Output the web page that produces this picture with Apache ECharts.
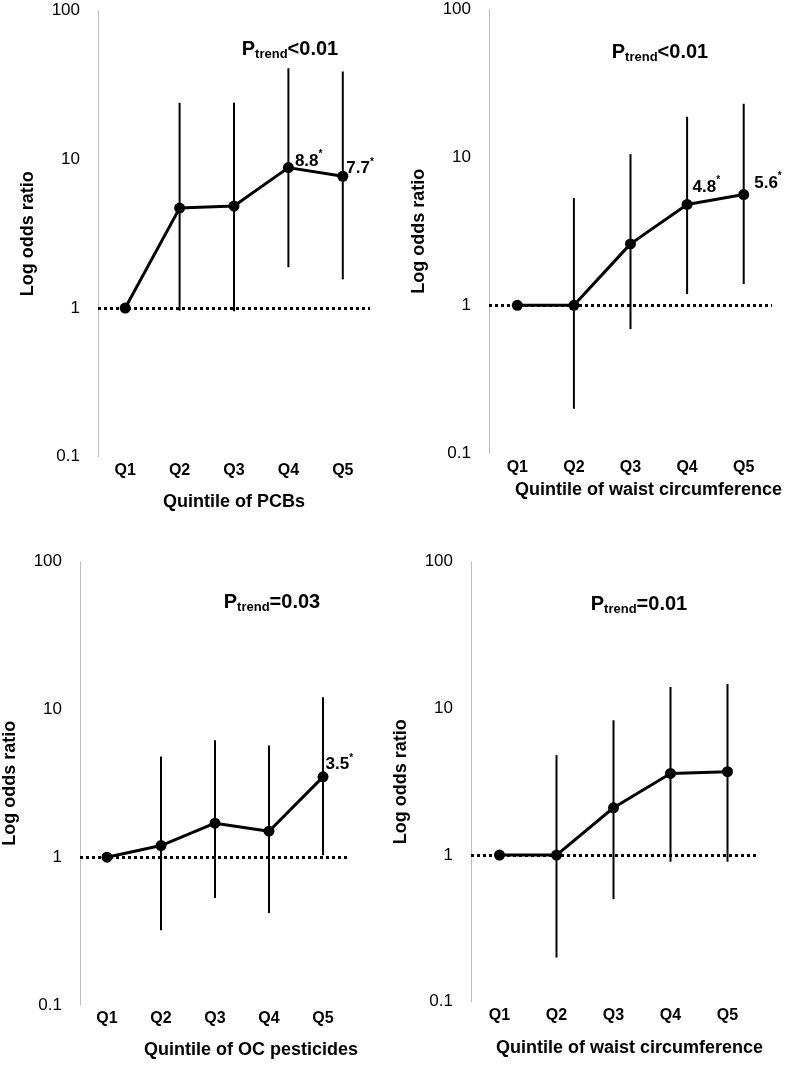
<!DOCTYPE html>
<html><head><meta charset="utf-8">
<script src="https://cdn.jsdelivr.net/npm/echarts@6.0.0/dist/echarts.min.js"></script>
<style>html,body{margin:0;padding:0;background:#fff}#c{width:785px;height:1067px}</style>
</head><body><div id="c"></div>
<script>
const categories = ['Q1', 'Q2', 'Q3', 'Q4', 'Q5'];
const yTickValues = [0.1, 1, 10, 100];

// Panel A: PCBs
const orPCB = [1, 4.7, 4.85, 8.8, 7.7];
const lowPCB = [null, 0.96, 0.95, 1.88, 1.56];
const highPCB = [null, 24, 24, 41, 39];
const annPCB = ['', '', '', '8.8', '7.7'];

// Panel B: waist circumference
const orWaistB = [1, 1, 2.6, 4.8, 5.6];
const lowWaistB = [null, 0.2, 0.69, 1.19, 1.39];
const highWaistB = [null, 5.3, 10.5, 18.8, 23];
const annWaistB = ['', '', '', '4.8', '5.6'];

// Panel C: OC pesticides
const orOC = [1, 1.2, 1.7, 1.5, 3.5];
const lowOC = [null, 0.32, 0.53, 0.42, 1.03];
const highOC = [null, 4.8, 6.2, 5.7, 12.1];
const annOC = ['', '', '', '', '3.5'];

// Panel D: waist circumference
const orWaistD = [1, 1, 2.1, 3.6, 3.7];
const lowWaistD = [null, 0.2, 0.5, 0.9, 0.9];
const highWaistD = [null, 4.8, 8.3, 14, 14.7];
const annWaistD = ['', '', '', '', ''];

const xTitles = ['Quintile of PCBs', 'Quintile of waist circumference', 'Quintile of OC pesticides', 'Quintile of waist circumference'];
const yTitle = 'Log odds ratio';
const pTrendTexts = ['<0.01', '<0.01', '=0.03', '=0.01'];
const referenceOR = 1;

const FONT = '"Liberation Sans", Arial, sans-serif';

const panels = [
  {or: orPCB, lo: lowPCB, hi: highPCB, ann: annPCB},
  {or: orWaistB, lo: lowWaistB, hi: highWaistB, ann: annWaistB},
  {or: orOC, lo: lowOC, hi: highOC, ann: annOC},
  {or: orWaistD, lo: lowWaistD, hi: highWaistD, ann: annWaistD}
];

// layout / style (pixels)
const gridBoxes = [
  {left: 98, top: 10.7, width: 272, height: 446},
  {left: 489, top: 9.3, width: 283, height: 444},
  {left: 79, top: 561.7, width: 271, height: 443.3},
  {left: 471, top: 561.7, width: 285, height: 440}
];
const xNameGaps = [36, 28, 36, 37];
const xNameShift = [0, 18, 36, 16];
const labelOffsets = [
  [null, null, null, [1, -8], [-2, -9]],
  [null, null, null, [0, -19], [5, -13]],
  [null, null, null, null, [-3, -14]],
  [null, null, null, null, null]
];
const pTrendPos = [[290, 50], [660, 53], [272, 603], [639, 605]];

const grids = [], xAxes = [], yAxes = [], series = [], graphics = [];

panels.forEach((pn, k) => {
  grids.push(Object.assign({containLabel: false}, gridBoxes[k]));
  xAxes.push({
    type: 'category', gridIndex: k, data: categories, boundaryGap: true,
    axisLine: {show: false}, axisTick: {show: false},
    axisLabel: {color: '#000', fontSize: 16, fontWeight: 'bold', fontFamily: FONT, margin: 6},
    name: xTitles[k], nameLocation: 'middle', nameGap: xNameGaps[k],
    nameTextStyle: {color: '#000', fontSize: 18, fontWeight: 'bold', fontFamily: FONT,
      padding: [0, 0, 0, xNameShift[k] * 2]}
  });
  yAxes.push({
    type: 'log', logBase: 10, gridIndex: k, min: yTickValues[0], max: yTickValues[yTickValues.length - 1],
    axisLine: {show: true, lineStyle: {color: '#bdbdbd', width: 1}},
    axisTick: {show: false}, splitLine: {show: false}, minorTick: {show: false},
    axisLabel: {color: '#000', fontSize: 17, fontFamily: FONT, margin: 18,
      formatter: v => (v < 1 ? (+v).toFixed(1) : String(Math.round(v)))},
    name: yTitle, nameLocation: 'middle', nameGap: 61, nameRotate: 90,
    nameTextStyle: {color: '#000', fontSize: 18, fontWeight: 'bold', fontFamily: FONT}
  });
  // error bars
  const ebData = [];
  pn.or.forEach((v, i) => { if (pn.lo[i] != null) ebData.push([i, pn.lo[i], pn.hi[i]]); });
  series.push({
    type: 'custom', xAxisIndex: k, yAxisIndex: k, data: ebData, silent: true, z: 2,
    encode: {x: 0, y: [1, 2]},
    renderItem: (params, api) => {
      const a = api.coord([api.value(0), api.value(1)]);
      const b = api.coord([api.value(0), api.value(2)]);
      return {type: 'line', shape: {x1: a[0], y1: a[1], x2: b[0], y2: b[1]},
        style: {stroke: '#000', lineWidth: 2}};
    }
  });
  // point estimates
  series.push({
    type: 'line', xAxisIndex: k, yAxisIndex: k, z: 3,
    symbol: 'circle', symbolSize: 11,
    lineStyle: {color: '#000', width: 3}, itemStyle: {color: '#000'},
    data: pn.or.map((v, i) => {
      const item = {value: v};
      if (pn.ann[i]) {
        item.label = {show: true, position: 'right', distance: 0, offset: labelOffsets[k][i],
          formatter: '{v|' + pn.ann[i] + '}{s|*}',
          rich: {
            v: {fontSize: 17, fontWeight: 'bold', color: '#000', fontFamily: FONT, lineHeight: 20, verticalAlign: 'bottom'},
            s: {fontSize: 10, fontWeight: 'bold', color: '#000', fontFamily: FONT, lineHeight: 10, verticalAlign: 'top'}
          }};
      }
      return item;
    }),
    label: {show: false},
    markLine: {
      silent: true, symbol: ['none', 'none'], label: {show: false},
      lineStyle: {color: '#000', width: 3, type: [3, 3]},
      data: [{yAxis: referenceOR}]
    },
    animation: false
  });
  graphics.push({
    type: 'text', x: pTrendPos[k][0], y: pTrendPos[k][1],
    style: {
      text: '{p|P}{t|trend}{p|' + pTrendTexts[k] + '}',
      align: 'center', verticalAlign: 'middle',
      rich: {
        p: {fontSize: 20, fontWeight: 'bold', fill: '#000', fontFamily: FONT, lineHeight: 22, verticalAlign: 'top'},
        t: {fontSize: 13, fontWeight: 'bold', fill: '#000', fontFamily: FONT, lineHeight: 14, padding: [14, 0, 0, 0], verticalAlign: 'bottom'}
      }
    }
  });
});

const chart = echarts.init(document.getElementById('c'), null, {renderer: 'canvas'});
chart.setOption({
  backgroundColor: '#fff', animation: false,
  grid: grids, xAxis: xAxes, yAxis: yAxes, series: series, graphic: graphics
});
</script>
</body></html>
